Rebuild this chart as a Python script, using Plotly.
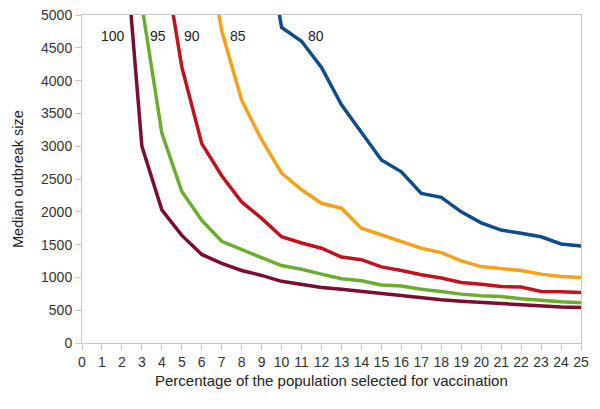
import plotly.graph_objects as go

x_pct = list(range(2, 26))
x_95 = list(range(3, 26))
x_90 = list(range(4, 26))
x_85 = list(range(6, 26))
x_80 = list(range(9, 26))

y_100 = [6700, 3000, 2030, 1640, 1350, 1215, 1105, 1030, 940, 895, 845, 820, 785, 757, 716, 685, 658, 636, 616, 598, 580, 568, 548, 540]
y_95 = [5150, 3200, 2310, 1870, 1550, 1420, 1300, 1180, 1125, 1050, 980, 950, 885, 870, 820, 785, 745, 720, 710, 675, 648, 628, 615]
y_90 = [6060, 4210, 3040, 2550, 2150, 1900, 1620, 1525, 1445, 1310, 1270, 1160, 1105, 1040, 990, 922, 895, 860, 852, 785, 780, 770]
y_85 = [6500, 4760, 3700, 3100, 2590, 2335, 2130, 2055, 1750, 1648, 1546, 1445, 1378, 1252, 1165, 1130, 1105, 1050, 1012, 998]
y_80 = [6570, 4810, 4600, 4200, 3630, 3200, 2790, 2610, 2280, 2220, 2000, 1832, 1722, 1672, 1620, 1510, 1480]

series = [
    ("100", x_pct, y_100, "#7B0D2F", 1.55),
    ("95", x_95, y_95, "#6BAE2F", 3.8),
    ("90", x_90, y_90, "#C1131D", 5.5),
    ("85", x_85, y_85, "#F5A21B", 7.83),
    ("80", x_80, y_80, "#0F4C8A", 11.72),
]

fig = go.Figure()
for name, xs, ys, col, lx in series:
    fig.add_trace(go.Scatter(x=xs, y=ys, mode="lines", name=name,
                             line=dict(color=col, width=3.5), showlegend=False))
    fig.add_annotation(x=lx, y=4680, text=name, showarrow=False,
                       font=dict(size=14, color="#222222"))

axis_common = dict(showgrid=False, zeroline=False, showline=True,
                   linecolor="#c8c8c8", linewidth=1, mirror=True,
                   ticks="outside", ticklen=6, tickcolor="#c8c8c8",
                   automargin=False, ticklabeloverflow="allow",
                   tickfont=dict(size=14, color="#333333"))

fig.update_xaxes(range=[0, 25], tickmode="linear", tick0=0, dtick=1, **axis_common)
fig.update_yaxes(range=[0, 5000], tickmode="linear", tick0=0, dtick=500, **axis_common)

fig.add_annotation(text="Percentage of the population selected for vaccination",
                   xref="paper", yref="paper", x=0.5, y=0,
                   yshift=-37, showarrow=False, yanchor="middle",
                   font=dict(size=15, color="#222222"))
fig.add_annotation(text="Median outbreak size", textangle=-90,
                   xref="paper", yref="paper", x=0, y=0.5,
                   xshift=-64, xanchor="center", showarrow=False,
                   font=dict(size=14.5, color="#222222"))

fig.update_layout(width=592, height=401,
                  margin=dict(l=74, r=19, t=7, b=66),
                  plot_bgcolor="white", paper_bgcolor="white",
                  font=dict(family="Liberation Sans, Arial, sans-serif"))

fig.write_html("out.html")
